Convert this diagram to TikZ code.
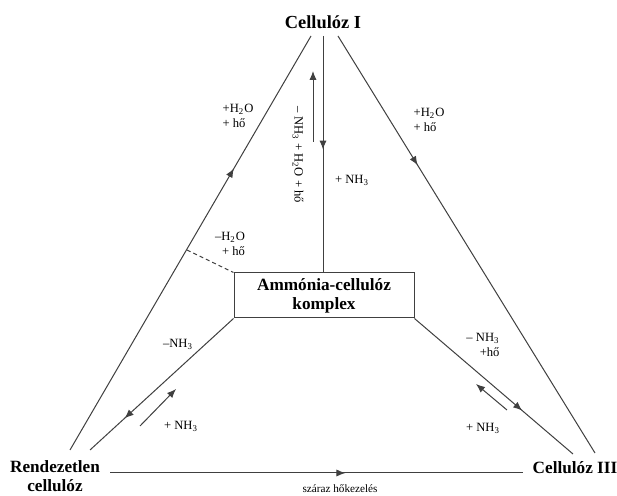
\documentclass[tikz,border=0pt]{standalone}
\usepackage{fontspec}
\setmainfont{Liberation Serif}
\usetikzlibrary{arrows.meta,decorations.markings}
\tikzset{
  conn/.style={draw=black!75, line width=0.5pt},
  midarrow/.style={postaction={decorate},decoration={markings,
     mark=at position #1 with {\arrow{Latex[length=4.5pt,width=3.6pt]}}}},
  shortarr/.style={draw=black!75, line width=0.5pt, -{Latex[length=4.5pt,width=3.6pt]}},
  title/.style={font=\bfseries\fontsize{9.2}{10}\selectfont, inner sep=1pt, align=center},
  lbl/.style={font=\fontsize{6.3}{7.2}\selectfont, inner sep=0.5pt},
  boxnode/.style={draw=black!75, line width=0.5pt, minimum width=90pt, minimum height=22.5pt, align=center, font=\bfseries\fontsize{8.6}{9.6}\selectfont, inner sep=1pt}
}
\begin{document}
\begin{tikzpicture}[x=0.5pt,y=-0.5pt]
\useasboundingbox (0,0) rectangle (617,496);
\fill[white] (0,0) rectangle (617,496);
% main nodes
\node[title] (c1) at (323,22) {Cellulóz I};
\node[title, font=\bfseries\fontsize{8.6}{9.4}\selectfont] (rc) at (55,476) {Rendezetlen\\cellulóz};
\node[title, font=\bfseries\fontsize{8.6}{9.4}\selectfont] (c3) at (575,468) {Cellulóz III};
\node[boxnode] (box) at (324,295.5) {Ammónia-cellulóz\\komplex};
% endpoint coordinates
\coordinate (c1l) at (311,36);
\coordinate (c1m) at (323,36);
\coordinate (c1r) at (338,36);
\coordinate (rcl) at (70,450);
\coordinate (rcr) at (90,450);
\coordinate (c3l) at (573,454);
\coordinate (c3r) at (595,453);
\coordinate (rcb) at (110,473);
\coordinate (c3b) at (523,473);
\coordinate (dashs) at (187,250);
% triangle sides
\draw[conn, midarrow=0.68] (rcl) -- (c1l);
\draw[conn, midarrow=0.31] (c1r) -- (c3r);
\draw[conn, midarrow=0.48] (c1m) -- (box.north -| c1m);
\draw[conn, midarrow=0.76] (box.south west) -- (rcr);
\draw[conn, midarrow=0.68] (box.south east) -- (c3l);
\draw[conn, midarrow=0.57] (rcb) -- (c3b);
\draw[conn, dashed, dash pattern=on 2pt off 1.5pt] (dashs) -- (box.north west);
% short reverse arrows
\coordinate (s1a) at (313,142); \coordinate (s1b) at (313,71);
\draw[shortarr] (s1a) -- (s1b);
\coordinate (s2a) at (140,426); \coordinate (s2b) at (176,389);
\draw[shortarr] (s2a) -- (s2b);
\coordinate (s3a) at (507,410); \coordinate (s3b) at (476,384);
\draw[shortarr] (s3a) -- (s3b);
% labels
\node[lbl, align=left] (l1) at (238,116) {+H\textsubscript{2}O\\+ hő};
\node[lbl, align=left] (l2) at (429,120) {+H\textsubscript{2}O\\+ hő};
\node[lbl, rotate=-90] (l3) at (298,155) {– NH\textsubscript{3} + H\textsubscript{2}O + hő};
\node[lbl] (l4) at (352,180) {+ NH\textsubscript{3}};
\node[lbl, align=right] (l5) at (230,244) {–H\textsubscript{2}O\\+ hő};
\node[lbl] (l6) at (178,344) {–NH\textsubscript{3}};
\node[lbl] (l7) at (181,426) {+ NH\textsubscript{3}};
\node[lbl, align=right] (l8) at (483,345) {– NH\textsubscript{3}\\+hő};
\node[lbl] (l9) at (483,428) {+ NH\textsubscript{3}};
\node[lbl, font=\fontsize{5.6}{6.5}\selectfont] (l10) at (340,489) {száraz hőkezelés};
\end{tikzpicture}
\end{document}
